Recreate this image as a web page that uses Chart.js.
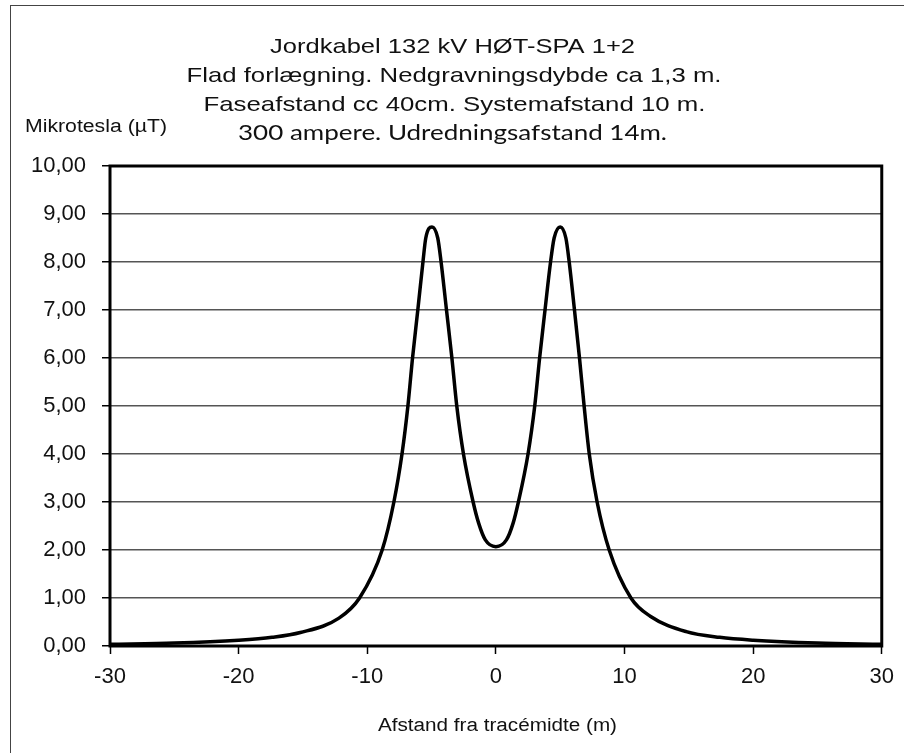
<!DOCTYPE html>
<html>
<head>
<meta charset="utf-8">
<script src="https://cdn.jsdelivr.net/npm/chart.js@4"></script>
<style>
  html, body { margin: 0; padding: 0; background: #fff; }
  #wrap { position: relative; width: 904px; height: 753px; overflow: hidden; }
  #frame { position: absolute; left: 10px; top: 5px; width: 1000px; height: 1000px; border: 1.5px solid #444; box-sizing: border-box; }
  canvas { position: absolute; left: 0; top: 0; }
</style>
</head>
<body>
<div id="wrap">
  <div id="frame"></div>
  <canvas id="c" width="904" height="753"></canvas>
</div>
<script>
// Distance from route centre (m)
const distances = [-30, -25, -20, -17.4, -15.2, -12.2, -10.6, -8.84, -7.93, -7.30, -6.84, -6.48, -6.07, -5.67, -5.45, -4.97, -4.52, -4.26, -3.84, -3.42, -3.04, -2.52, -1.77, -1.34, -0.82, 0,
                   0.82, 1.34, 1.75, 2.50, 3.02, 3.40, 3.82, 4.25, 4.53, 5.0, 5.44, 5.70, 6.11, 6.50, 6.86, 7.26, 7.87, 8.81, 10.5, 12.0, 14.8, 17.4, 20, 25, 30];
// Magnetic flux density (µT)
const fluxValues = [0.035, 0.06, 0.12, 0.18, 0.28, 0.58, 1.0, 2.0, 3.0, 4.0, 5.0, 6.0, 7.0, 8.0, 8.5, 8.73, 8.5, 8.0, 7.0, 6.0, 5.0, 4.0, 3.0, 2.56, 2.21, 2.07,
                    2.21, 2.56, 3.0, 4.0, 5.0, 6.0, 7.0, 8.0, 8.5, 8.73, 8.5, 8.0, 7.0, 6.0, 5.0, 4.0, 3.0, 2.0, 1.0, 0.62, 0.30, 0.18, 0.12, 0.06, 0.035];

const titleLines = [
  "Jordkabel 132 kV HØT-SPA 1+2",
  "Flad forlægning. Nedgravningsdybde ca 1,3 m.",
  "Faseafstand cc 40cm. Systemafstand 10 m.",
  "300 ampere. Udredningsafstand 14m."
];
const yAxisTitle = "Mikrotesla (µT)";
const xAxisTitle = "Afstand fra tracémidte (m)";

const points = distances.map((x, i) => ({ x: x, y: fluxValues[i] }));

function fitted(ctx, text, font, cx, baseline, width) {
  ctx.save();
  ctx.font = font;
  const m = ctx.measureText(text).width;
  ctx.translate(cx, baseline);
  ctx.scale(width / m, 1);
  ctx.textAlign = 'center';
  ctx.textBaseline = 'alphabetic';
  ctx.fillStyle = '#111';
  ctx.fillText(text, 0, 0);
  ctx.restore();
}

const textPlugin = {
  id: 'texts',
  afterDraw(chart) {
    const ctx = chart.ctx;
    const arial = '"Liberation Sans", Arial, sans-serif';
    fitted(ctx, titleLines[0], '21px ' + arial, 452.5, 53, 365);
    fitted(ctx, titleLines[1], '21px ' + arial, 454, 82, 535);
    fitted(ctx, titleLines[2], '21px ' + arial, 454.5, 111, 502);
    fitted(ctx, titleLines[3], '21px Lato, "Open Sans", sans-serif', 452.5, 140, 429);
    fitted(ctx, yAxisTitle, '18px ' + arial, 96, 132, 142);
    fitted(ctx, xAxisTitle, '18px ' + arial, 497.5, 731, 239);
  }
};

const borderPlugin = {
  id: 'plotBorder',
  afterDatasetsDraw(chart) {
    const a = chart.chartArea, ctx = chart.ctx;
    ctx.save();
    ctx.strokeStyle = '#000';
    ctx.lineWidth = 3;
    ctx.strokeRect(a.left, a.top, a.right - a.left, a.bottom - a.top);
    ctx.restore();
  }
};

new Chart(document.getElementById('c'), {
  type: 'line',
  data: {
    datasets: [{
      data: points,
      borderColor: '#000',
      borderWidth: 3.5,
      pointRadius: 0,
      fill: false,
      cubicInterpolationMode: 'monotone'
    }]
  },
  options: {
    responsive: false,
    devicePixelRatio: 1,
    animation: false,
    layout: { padding: { left: 0, top: 166, right: 22, bottom: 0 } },
    plugins: { legend: { display: false }, title: { display: false }, tooltip: { enabled: false } },
    scales: {
      x: {
        type: 'linear', min: -30, max: 30,
        afterFit(s) { s.height = 107; },
        border: { display: false },
        grid: { drawOnChartArea: false, drawTicks: true, tickLength: 8, tickColor: '#000', tickWidth: 1.5 },
        ticks: { stepSize: 10, padding: 10, color: '#111', font: { family: '"Liberation Sans", Arial, sans-serif', size: 22 } }
      },
      y: {
        min: 0, max: 10,
        afterFit(s) { s.width = 110; },
        border: { display: false },
        grid: { color: '#555', lineWidth: 1.5, drawTicks: true, tickLength: 8, tickColor: '#000', tickWidth: 1.5 },
        ticks: { stepSize: 1, padding: 16, color: '#111', font: { family: '"Liberation Sans", Arial, sans-serif', size: 22 },
                 callback: v => v.toFixed(2).replace('.', ',') }
      }
    }
  },
  plugins: [textPlugin, borderPlugin]
});
</script>
</body>
</html>
